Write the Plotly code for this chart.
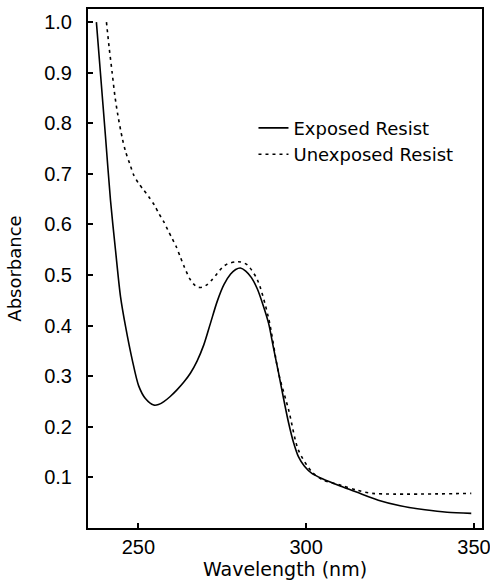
import plotly.graph_objects as go

# Exposed resist (solid)
exp_wl = [237.5, 238.7, 240.2, 241.7, 243.2, 244.7, 246.2, 248.2, 250.1,
          252.1, 254.6, 256.0, 257.6, 259.5, 261.5, 263.5, 265.5, 267.5, 269.5,
          271.5, 273.5, 275.5, 277.5, 279.0, 280.4, 282.0, 283.7, 285.5, 287.2,
          288.8, 290.3, 291.8, 293.3, 294.8, 296.2, 297.7, 299.5, 301.7, 305.0,
          310.6, 315.0, 321.5, 328.0, 335.4, 342.0, 349.2]
exp_abs = [1.0, 0.90, 0.775, 0.648, 0.549, 0.457, 0.398, 0.332, 0.281,
           0.256, 0.243, 0.244, 0.250, 0.260, 0.273, 0.288, 0.306, 0.330, 0.362,
           0.405, 0.448, 0.481, 0.502, 0.511, 0.514, 0.508, 0.495, 0.472, 0.440,
           0.405, 0.355, 0.306, 0.255, 0.207, 0.170, 0.141, 0.122, 0.108, 0.097,
           0.082, 0.071, 0.055, 0.044, 0.036, 0.031, 0.029]

# Unexposed resist (dashed)
unexp_wl = [240.5, 241.3, 242.2, 243.0, 243.9, 245.2, 246.2, 247.6, 248.6, 250.1,
            251.6, 253.1, 254.8, 256.1, 257.6, 258.8, 260.1, 261.3, 262.5, 263.7,
            265.3, 266.5, 267.8, 269.0, 270.5, 272.0, 273.5, 275.0, 276.5, 278.9,
            280.5, 282.5, 285.5, 288.8, 291.8, 294.8, 297.7, 301.7, 305.0, 310.6,
            315.0, 319.6, 349.2]
unexp_abs = [1.0, 0.95, 0.90, 0.855, 0.816, 0.771, 0.744, 0.717, 0.698, 0.681,
             0.668, 0.655, 0.638, 0.622, 0.605, 0.589, 0.572, 0.556, 0.536, 0.516,
             0.493, 0.482, 0.476, 0.476, 0.481, 0.491, 0.503, 0.515, 0.522, 0.526,
             0.526, 0.520, 0.490, 0.415, 0.306, 0.233, 0.154, 0.111, 0.095, 0.084,
             0.075, 0.0685, 0.0685]

x_ticks = [250, 300, 350]
y_ticks = [0.1, 0.2, 0.3, 0.4, 0.5, 0.6, 0.7, 0.8, 0.9, 1.0]
y_ticklabels = ["0.1", "0.2", "0.3", "0.4", "0.5", "0.6", "0.7", "0.8", "0.9", "1.0"]

fig = go.Figure()
fig.add_trace(go.Scatter(x=exp_wl, y=exp_abs, mode="lines", name="Exposed Resist",
                         line=dict(color="black", width=1.6, shape="spline", smoothing=0.8)))
fig.add_trace(go.Scatter(x=unexp_wl, y=unexp_abs, mode="lines", name="Unexposed Resist",
                         line=dict(color="black", width=1.6, dash="3px,4px", shape="spline", smoothing=0.8)))

tickfont = dict(family="Liberation Sans, Arial, sans-serif", size=20, color="black")
titlefont = dict(family="DejaVu Sans, sans-serif", size=18, color="black")

fig.update_layout(
    width=490, height=586,
    margin=dict(l=88, r=8, t=9, b=58, autoexpand=False),
    paper_bgcolor="white", plot_bgcolor="white",
    showlegend=True,
    legend=dict(x=0.42, y=0.806, xanchor="left", yanchor="top",
                font=dict(family="DejaVu Sans, sans-serif", size=18, color="black"),
                bgcolor="rgba(0,0,0,0)", borderwidth=0, tracegroupgap=0),
    xaxis=dict(range=[235, 352.4], tickvals=x_ticks, ticktext=[str(v) for v in x_ticks],
               automargin=False, ticklabeloverflow="allow",
               ticks="inside", ticklen=5, tickwidth=1.5, tickcolor="black",
               showline=True, linecolor="black", linewidth=2, mirror=True,
               showgrid=False, zeroline=False, tickfont=tickfont,
               ticklabelstandoff=0,
               title=dict(text="Wavelength (nm)", font=dict(family="DejaVu Sans, sans-serif", size=19, color="black"), standoff=2)),
    yaxis=dict(range=[0, 1.026], tickvals=y_ticks, ticktext=y_ticklabels,
               automargin=False, ticklabeloverflow="allow",
               ticks="inside", ticklen=5, tickwidth=1.5, tickcolor="black",
               showline=True, linecolor="black", linewidth=2, mirror=True,
               showgrid=False, zeroline=False, tickfont=tickfont,
               ticklabelstandoff=10,
               title=dict(text="Absorbance", font=titlefont, standoff=18)),
)

post = (
    "var s=document.createElement('style');"
    "s.innerHTML='html,body{margin:0!important;padding:0!important;overflow:hidden!important;"
    "width:490px;height:586px;}';"
    "document.head.appendChild(s);"
)

fig.write_html("out.html", config={"displayModeBar": False}, post_script=post)
